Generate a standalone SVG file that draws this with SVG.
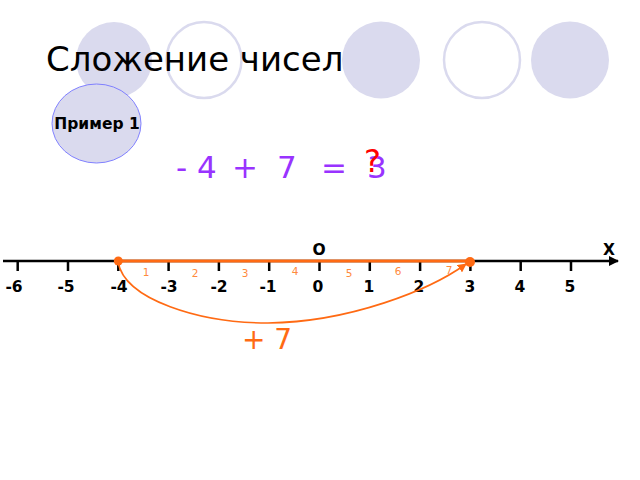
<svg xmlns="http://www.w3.org/2000/svg" width="640" height="480" viewBox="0 0 640 480">
<style>
.deco-fill{fill:#dadaee;stroke:none}
.deco-ring{fill:none;stroke:#dadaee;stroke-width:2.5}
.t{font-family:"DejaVu Sans",Verdana,sans-serif}
.tick{stroke:#000;stroke-width:2.5}
.num{font-family:"DejaVu Sans",Verdana,sans-serif;font-weight:bold;font-size:15.5px;fill:#000;text-anchor:middle}
.step{font-family:"DejaVu Sans",Verdana,sans-serif;font-size:10.5px;fill:#ff8a3d;text-anchor:middle}
.eq{font-family:"DejaVu Sans",Verdana,sans-serif;font-size:31px;fill:#9933ff}
</style>
<defs>
<marker id="axisArrow" viewBox="0 0 10 10" refX="9" refY="5" markerWidth="10" markerHeight="10" markerUnits="userSpaceOnUse" orient="auto">
<path d="M0,0 L10,5 L0,10 Z" fill="#000"/>
</marker>
<marker id="orangeArrow" viewBox="0 0 10 10" refX="9" refY="5" markerWidth="9" markerHeight="9" markerUnits="userSpaceOnUse" orient="auto">
<path d="M0,0 L10,5 L0,10 Z" fill="#ff6a13"/>
</marker>
</defs>
<rect width="640" height="480" fill="#fff"/>
<g id="decor">
<ellipse class="deco-fill" cx="114" cy="60" rx="38" ry="38"/>
<ellipse class="deco-ring" cx="204" cy="60" rx="37.5" ry="38"/>
<ellipse class="deco-fill" cx="381" cy="60" rx="39" ry="38.5"/>
<ellipse class="deco-ring" cx="482" cy="60" rx="38" ry="38"/>
<ellipse class="deco-fill" cx="570" cy="60" rx="39" ry="38.5"/>
</g>
<g id="title">
<text class="t" x="46" y="71" font-size="34" fill="#000">Сложение чисел</text>
</g>
<g id="example">
<ellipse cx="96.5" cy="123.5" rx="44.5" ry="39.5" fill="#dadaee" stroke="#8080ff" stroke-width="1"/>
<text class="t" x="97" y="129" font-size="15.5" font-weight="bold" text-anchor="middle" fill="#000">Пример 1</text>
</g>
<g id="equation">
<text class="eq" x="176" y="178">-</text>
<text class="eq" x="197" y="178">4</text>
<text class="eq" x="232" y="178">+</text>
<text class="eq" x="277" y="178">7</text>
<text class="eq" x="321" y="178">=</text>
<text class="eq" x="367" y="178">3</text>
<text class="t" x="364" y="172" font-size="32" fill="#ff0000">?</text>
</g>
<g id="axis">
<line x1="3" y1="261" x2="618" y2="261" stroke="#000" stroke-width="2.5" marker-end="url(#axisArrow)"/>
<g id="ticks">
<line class="tick" x1="17.7" y1="261" x2="17.7" y2="271"/>
<line class="tick" x1="68" y1="261" x2="68" y2="271"/>
<line class="tick" x1="118.3" y1="261" x2="118.3" y2="271"/>
<line class="tick" x1="168.6" y1="261" x2="168.6" y2="271"/>
<line class="tick" x1="218.9" y1="261" x2="218.9" y2="271"/>
<line class="tick" x1="269.2" y1="261" x2="269.2" y2="271"/>
<line class="tick" x1="319.5" y1="261" x2="319.5" y2="271"/>
<line class="tick" x1="369.8" y1="261" x2="369.8" y2="271"/>
<line class="tick" x1="420.1" y1="261" x2="420.1" y2="271"/>
<line class="tick" x1="470.4" y1="261" x2="470.4" y2="271"/>
<line class="tick" x1="520.7" y1="261" x2="520.7" y2="271"/>
<line class="tick" x1="571" y1="261" x2="571" y2="271"/>
</g>
<g id="labels">
<text class="num" x="14" y="292">-6</text>
<text class="num" x="66" y="292">-5</text>
<text class="num" x="119" y="292">-4</text>
<text class="num" x="169" y="292">-3</text>
<text class="num" x="219" y="292">-2</text>
<text class="num" x="268" y="292">-1</text>
<text class="num" x="318" y="292">0</text>
<text class="num" x="369" y="292">1</text>
<text class="num" x="419" y="292">2</text>
<text class="num" x="470" y="292">3</text>
<text class="num" x="520" y="292">4</text>
<text class="num" x="570" y="292">5</text>
<text class="num" x="319" y="255" font-size="16">O</text>
<text class="num" x="609" y="255" font-size="16">X</text>
</g>
</g>
<g id="connectors">
<line x1="118" y1="261" x2="470" y2="261" stroke="#ff6a13" stroke-width="3"/>
<path d="M118,262 C125,300 200,323 268,323 C350,322 430,290 466,264" fill="none" stroke="#ff6a13" stroke-width="1.6" marker-end="url(#orangeArrow)"/>
<circle cx="118.3" cy="261" r="4.5" fill="#ff6a13"/>
<circle cx="470" cy="262" r="5" fill="#ff6a13"/>
</g>
<g id="steps">
<text class="step" x="146" y="276">1</text>
<text class="step" x="195" y="277">2</text>
<text class="step" x="245" y="277">3</text>
<text class="step" x="295" y="275">4</text>
<text class="step" x="349" y="277">5</text>
<text class="step" x="398" y="275">6</text>
<text class="step" x="449" y="274">7</text>
</g>
<g id="plus7">
<text class="t" x="242" y="349" font-size="28" fill="#ff6a13">+ 7</text>
</g>
</svg>
